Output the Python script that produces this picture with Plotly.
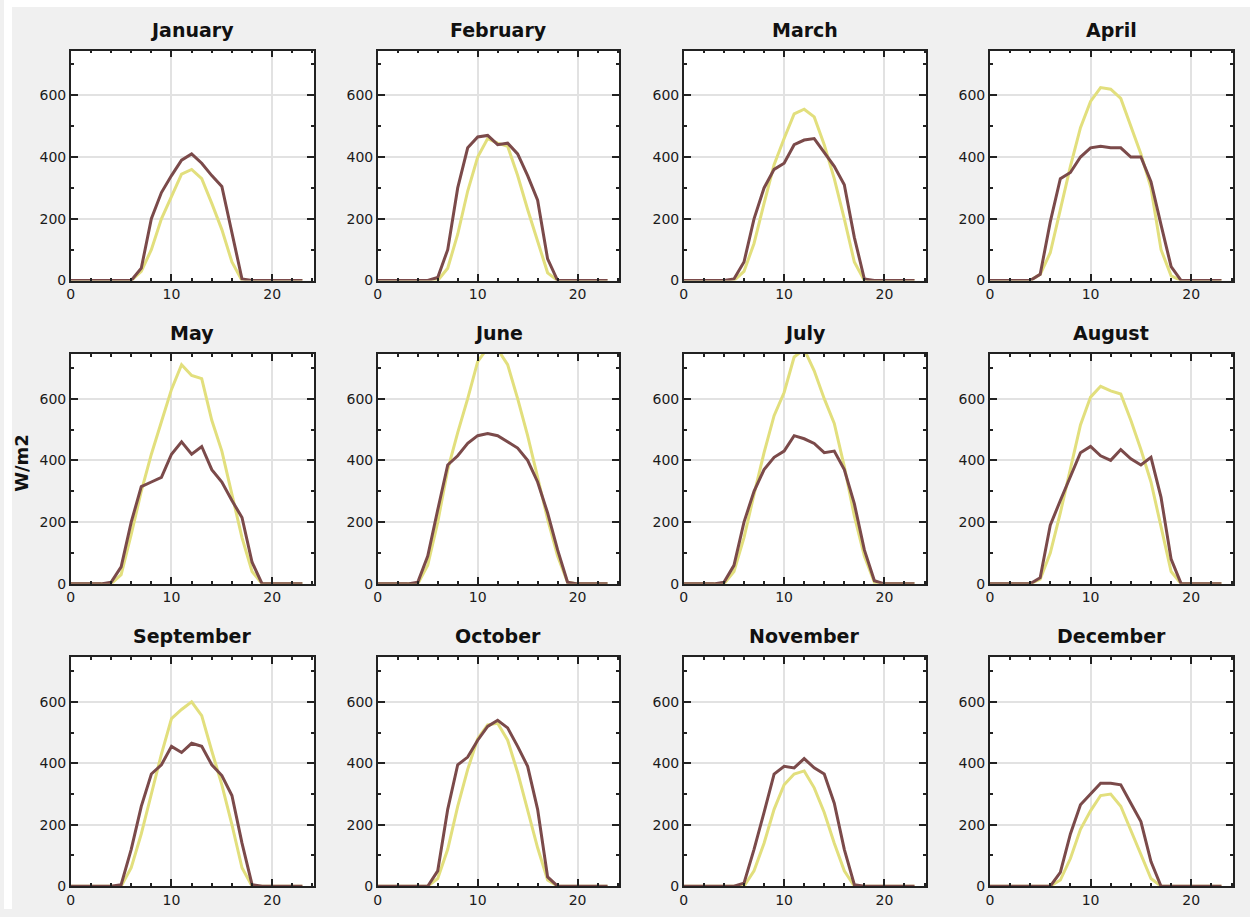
import plotly.graph_objects as go

hours = list(range(24))
months = ["January", "February", "March", "April", "May", "June",
          "July", "August", "September", "October", "November", "December"]

# Clear-sky (yellow) and measured (brown) hourly irradiance, W/m2
jan_clear = [0,0,0,0,0,0,0,30,100,200,275,345,360,330,250,165,60,0,0,0,0,0,0,0]
jan_meas  = [0,0,0,0,0,0,0,40,200,285,340,390,410,380,340,305,150,5,0,0,0,0,0,0]
feb_clear = [0,0,0,0,0,0,0,40,150,290,400,460,445,435,340,230,125,25,0,0,0,0,0,0]
feb_meas  = [0,0,0,0,0,0,10,100,300,430,465,470,440,445,410,340,260,70,0,0,0,0,0,0]
mar_clear = [0,0,0,0,0,0,30,120,250,375,460,540,555,530,440,330,200,60,0,0,0,0,0,0]
mar_meas  = [0,0,0,0,0,5,60,200,300,360,380,440,455,460,415,370,310,140,5,0,0,0,0,0]
apr_clear = [0,0,0,0,0,20,90,230,370,495,580,625,620,590,500,410,300,100,15,0,0,0,0,0]
apr_meas  = [0,0,0,0,0,20,190,330,350,400,430,435,430,430,400,400,320,180,45,0,0,0,0,0]
may_clear = [0,0,0,0,0,30,160,300,420,525,630,710,675,665,530,430,290,150,40,0,0,0,0,0]
may_meas  = [0,0,0,0,5,55,200,315,330,345,420,460,420,445,370,330,270,215,70,0,0,0,0,0]
jun_clear = [0,0,0,0,0,60,200,370,490,600,720,765,760,710,600,480,340,210,90,5,0,0,0,0]
jun_meas  = [0,0,0,0,5,90,240,385,415,455,480,487,480,460,440,400,330,230,110,5,0,0,0,0]
jul_clear = [0,0,0,0,0,40,150,290,425,545,620,735,760,690,600,520,380,220,90,5,0,0,0,0]
jul_meas  = [0,0,0,0,5,60,200,300,370,410,430,480,470,455,425,430,370,260,110,10,0,0,0,0]
aug_clear = [0,0,0,0,0,15,100,230,370,515,605,640,625,615,530,435,330,190,40,0,0,0,0,0]
aug_meas  = [0,0,0,0,0,20,190,270,350,425,445,415,400,435,405,385,410,280,80,0,0,0,0,0]
sep_clear = [0,0,0,0,0,0,60,170,300,430,545,575,600,555,440,330,200,60,0,0,0,0,0,0]
sep_meas  = [0,0,0,0,0,5,120,260,365,395,455,435,465,455,395,360,295,140,5,0,0,0,0,0]
oct_clear = [0,0,0,0,0,0,25,120,260,380,480,525,530,475,370,250,125,20,0,0,0,0,0,0]
oct_meas  = [0,0,0,0,0,0,50,250,395,420,475,520,540,515,455,390,250,30,0,0,0,0,0,0]
nov_clear = [0,0,0,0,0,0,0,50,140,250,330,365,375,320,240,140,50,0,0,0,0,0,0,0]
nov_meas  = [0,0,0,0,0,0,10,120,240,365,390,385,415,385,365,270,120,5,0,0,0,0,0,0]
dec_clear = [0,0,0,0,0,0,0,20,90,185,245,295,300,260,180,100,25,0,0,0,0,0,0,0]
dec_meas  = [0,0,0,0,0,0,0,45,170,265,300,335,335,330,270,210,80,0,0,0,0,0,0,0]

x_ticks = [0, 10, 20]
y_ticks = [0, 200, 400, 600]

clear_series = [jan_clear, feb_clear, mar_clear, apr_clear, may_clear, jun_clear,
                jul_clear, aug_clear, sep_clear, oct_clear, nov_clear, dec_clear]
meas_series = [jan_meas, feb_meas, mar_meas, apr_meas, may_meas, jun_meas,
               jul_meas, aug_meas, sep_meas, oct_meas, nov_meas, dec_meas]

# ---- layout constants (pixels) ----
W, H = 1250, 917
col_px = [(67, 311), (375, 617), (682, 925), (989, 1233)]
row_px = [(51, 283), (357, 589), (663, 894)]
title_px = [30, 336, 642]

CLEAR_COLOR = "#e2df7d"
MEAS_COLOR = "#7b4a4a"

fig = go.Figure()
layout_axes = {}
annotations = []
for i, m in enumerate(months):
    r, c = divmod(i, 4)
    n = i + 1
    xa = "x" if n == 1 else f"x{n}"
    ya = "y" if n == 1 else f"y{n}"
    fig.add_trace(go.Scatter(x=hours, y=clear_series[i], mode="lines",
                             line=dict(color=CLEAR_COLOR, width=3),
                             xaxis=xa, yaxis=ya, showlegend=False, name="Clear sky"))
    fig.add_trace(go.Scatter(x=hours, y=meas_series[i], mode="lines",
                             line=dict(color=MEAS_COLOR, width=3),
                             xaxis=xa, yaxis=ya, showlegend=False, name="Measured"))
    x0, x1 = col_px[c]
    y0, y1 = row_px[r]
    xkey = "xaxis" if n == 1 else f"xaxis{n}"
    ykey = "yaxis" if n == 1 else f"yaxis{n}"
    layout_axes[xkey] = dict(
        domain=[x0 / W, x1 / W], anchor=ya, range=[0, 24.15],
        tickvals=x_ticks, ticks="inside", ticklen=7, tickwidth=1.5, tickcolor="#222",
        minor=dict(dtick=2, tick0=0, ticks="inside", ticklen=3, tickcolor="#222", showgrid=False),
        showline=True, linecolor="#222", linewidth=1.5, mirror="ticks",
        showgrid=True, gridcolor="#e2e2e2", gridwidth=1.5, zeroline=False,
        tickfont=dict(family="DejaVu Sans", size=14, color="#1a1a1a"),
        fixedrange=True,
    )
    layout_axes[ykey] = dict(
        domain=[1 - y1 / H, 1 - y0 / H], anchor=xa, range=[0, 745],
        tickvals=y_ticks, ticks="inside", ticklen=7, tickwidth=1.5, tickcolor="#222",
        minor=dict(dtick=100, tick0=0, ticks="inside", ticklen=3, tickcolor="#222", showgrid=False),
        showline=True, linecolor="#222", linewidth=1.5, mirror="ticks",
        showgrid=True, gridcolor="#e2e2e2", gridwidth=1.5, zeroline=False,
        tickfont=dict(family="DejaVu Sans", size=14, color="#1a1a1a"),
        fixedrange=True,
    )
    annotations.append(dict(
        text=f"<b>{m}</b>", x=(x0 + x1) / 2 / W, y=1 - title_px[r] / H,
        xref="paper", yref="paper", xanchor="center", yanchor="middle",
        showarrow=False, font=dict(family="DejaVu Sans", size=19, color="#111")))

annotations.append(dict(
    text="<b>W/m2</b>", x=18 / W, y=1 - 467 / H, xref="paper", yref="paper",
    xanchor="center", yanchor="middle", textangle=-90, showarrow=False,
    font=dict(family="DejaVu Sans", size=18, color="#111")))

shapes = [
    dict(type="rect", xref="paper", yref="paper", x0=0, x1=8 / W, y0=0, y1=1,
         fillcolor="white", line=dict(width=0), layer="below"),
    dict(type="rect", xref="paper", yref="paper", x0=0, x1=1, y0=1 - 7 / H, y1=1,
         fillcolor="white", line=dict(width=0), layer="below"),
]

fig.update_layout(
    width=W, height=H, autosize=False,
    margin=dict(l=0, r=0, t=0, b=0, pad=0),
    paper_bgcolor="#f0f0f0", plot_bgcolor="white",
    annotations=annotations, shapes=shapes, showlegend=False,
    **layout_axes,
)

fig.write_html("out.html",
               config={"displayModeBar": False},
               post_script="document.body.style.margin='0';document.body.style.overflow='hidden';")
